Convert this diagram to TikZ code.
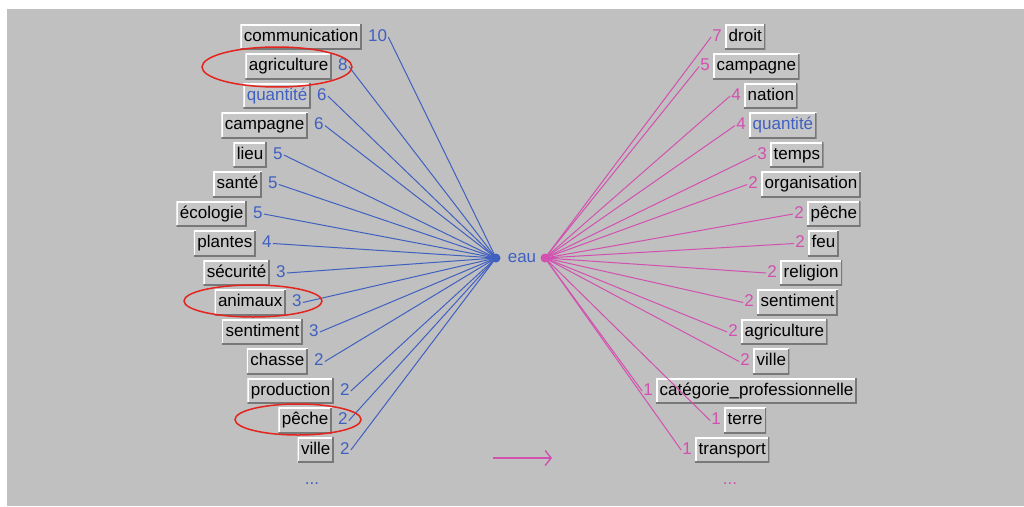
\documentclass[tikz,border=0pt]{standalone}
\usepackage{fontspec}
\setmainfont{Liberation Sans}
\usetikzlibrary{positioning,arrows.meta}

\definecolor{bggray}{RGB}{192,192,192}
\definecolor{boxgray}{RGB}{198,198,198}
\definecolor{edgegray}{RGB}{120,120,120}
\definecolor{eaublue}{RGB}{64,96,192}
\definecolor{eaupink}{RGB}{210,80,176}
\definecolor{ringred}{RGB}{228,36,30}

\newcommand{\wordfont}{\fontsize{17}{20}\selectfont}

\tikzset{
  txt/.style={font=\wordfont, text height=12.5pt, text depth=4pt},
  word/.style={txt, fill=boxgray, text=black, inner xsep=3.5pt, inner ysep=4.3pt,
    path picture={
      \draw [white, line width=2.6pt] (path picture bounding box.south west) |- (path picture bounding box.north east);
      \draw [edgegray, line width=3pt] (path picture bounding box.south west) -| (path picture bounding box.north east);
    }},
  lword/.style={word, anchor=east},
  rword/.style={word, anchor=west},
  lnum/.style={txt, text=eaublue, inner sep=1pt},
  rnum/.style={txt, text=eaupink, inner sep=1pt},
  bline/.style={eaublue, line width=1pt},
  pline/.style={eaupink, line width=1pt},
  ring/.style={ringred, line width=1.5pt}
}

\begin{document}
\begin{tikzpicture}[x=1pt,y=-1pt]

\useasboundingbox (0,0) rectangle (1024,506);
\fill [white] (0,0) rectangle (1024,506);
\fill [bggray] (7,9) rectangle (1024,506);

\coordinate (hubl) at (496,258);
\coordinate (hubr) at (545,258);
\node [txt, text=eaublue, inner sep=1pt] (eau) at (522,258) {eau};

\node [lword] (l1) at (362,37) {communication};
\node [lnum, right=5pt of l1] (n1) {10};
\node [lword] (l2) at (332,66.5) {agriculture};
\node [lnum, right=5pt of l2] (n2) {8};
\node [lword, text=eaublue] (l3) at (311,96) {quantité};
\node [lnum, right=5pt of l3] (n3) {6};
\node [lword] (l4) at (308,125.5) {campagne};
\node [lnum, right=5pt of l4] (n4) {6};
\node [lword] (l5) at (267,155) {lieu};
\node [lnum, right=5pt of l5] (n5) {5};
\node [lword] (l6) at (262,184.5) {santé};
\node [lnum, right=5pt of l6] (n6) {5};
\node [lword] (l7) at (247,214) {écologie};
\node [lnum, right=5pt of l7] (n7) {5};
\node [lword] (l8) at (256,243.5) {plantes};
\node [lnum, right=5pt of l8] (n8) {4};
\node [lword] (l9) at (270,273) {sécurité};
\node [lnum, right=5pt of l9] (n9) {3};
\node [lword] (l10) at (286,302.5) {animaux};
\node [lnum, right=5pt of l10] (n10) {3};
\node [lword] (l11) at (303,332) {sentiment};
\node [lnum, right=5pt of l11] (n11) {3};
\node [lword] (l12) at (308,361.5) {chasse};
\node [lnum, right=5pt of l12] (n12) {2};
\node [lword] (l13) at (334,391) {production};
\node [lnum, right=5pt of l13] (n13) {2};
\node [lword] (l14) at (332,420.5) {pêche};
\node [lnum, right=5pt of l14] (n14) {2};
\node [lword] (l15) at (334,450) {ville};
\node [lnum, right=5pt of l15] (n15) {2};
\node [lnum] (ldots) at (312,480) {...};

\node [rword] (r1) at (725,37) {droit};
\node [rnum, left=2pt of r1] (m1) {7};
\node [rword] (r2) at (713,66.5) {campagne};
\node [rnum, left=2pt of r2] (m2) {5};
\node [rword] (r3) at (744,96) {nation};
\node [rnum, left=2pt of r3] (m3) {4};
\node [rword, text=eaublue] (r4) at (749,125.5) {quantité};
\node [rnum, left=2pt of r4] (m4) {4};
\node [rword] (r5) at (770,155) {temps};
\node [rnum, left=2pt of r5] (m5) {3};
\node [rword] (r6) at (761,184.5) {organisation};
\node [rnum, left=2pt of r6] (m6) {2};
\node [rword] (r7) at (807,214) {pêche};
\node [rnum, left=2pt of r7] (m7) {2};
\node [rword] (r8) at (808,243.5) {feu};
\node [rnum, left=2pt of r8] (m8) {2};
\node [rword] (r9) at (780,273) {religion};
\node [rnum, left=2pt of r9] (m9) {2};
\node [rword] (r10) at (757,302.5) {sentiment};
\node [rnum, left=2pt of r10] (m10) {2};
\node [rword] (r11) at (741,332) {agriculture};
\node [rnum, left=2pt of r11] (m11) {2};
\node [rword] (r12) at (753,361.5) {ville};
\node [rnum, left=2pt of r12] (m12) {2};
\node [rword] (r13) at (656,391) {catégorie\_professionnelle};
\node [rnum, left=2pt of r13] (m13) {1};
\node [rword] (r14) at (724,420.5) {terre};
\node [rnum, left=2pt of r14] (m14) {1};
\node [rword] (r15) at (695,450) {transport};
\node [rnum, left=2pt of r15] (m15) {1};
\node [rnum] (rdots) at (730,480) {...};

\draw [bline] (n1.east) -- (hubl);
\draw [bline] (n2.east) -- (hubl);
\draw [bline] (n3.east) -- (hubl);
\draw [bline] (n4.east) -- (hubl);
\draw [bline] (n5.east) -- (hubl);
\draw [bline] (n6.east) -- (hubl);
\draw [bline] (n7.east) -- (hubl);
\draw [bline] (n8.east) -- (hubl);
\draw [bline] (n9.east) -- (hubl);
\draw [bline] (n10.east) -- (hubl);
\draw [bline] (n11.east) -- (hubl);
\draw [bline] (n12.east) -- (hubl);
\draw [bline] (n13.east) -- (hubl);
\draw [bline] (n14.east) -- (hubl);
\draw [bline] (n15.east) -- (hubl);
\fill [eaublue] (hubl) circle (4.5pt);

\draw [pline] (hubr) -- (m1.west);
\draw [pline] (hubr) -- (m2.west);
\draw [pline] (hubr) -- (m3.west);
\draw [pline] (hubr) -- (m4.west);
\draw [pline] (hubr) -- (m5.west);
\draw [pline] (hubr) -- (m6.west);
\draw [pline] (hubr) -- (m7.west);
\draw [pline] (hubr) -- (m8.west);
\draw [pline] (hubr) -- (m9.west);
\draw [pline] (hubr) -- (m10.west);
\draw [pline] (hubr) -- (m11.west);
\draw [pline] (hubr) -- (m12.west);
\draw [pline] (hubr) -- (m13.west);
\draw [pline] (hubr) -- (m14.west);
\draw [pline] (hubr) -- (m15.west);
\fill [eaupink] (hubr) circle (4.5pt);

\coordinate (arrowa) at (493,458);
\coordinate (arrowb) at (552,458);
\draw [pline, line width=1.4pt, -{Straight Barb[length=6pt,width=15pt]}] (arrowa) -- (arrowb);

\draw [ring] (277,67) ellipse [x radius=75pt, y radius=20pt];
\draw [ring] (253,301) ellipse [x radius=69pt, y radius=16pt];
\draw [ring] (298,419.5) ellipse [x radius=63pt, y radius=15.5pt];

\end{tikzpicture}
\end{document}
